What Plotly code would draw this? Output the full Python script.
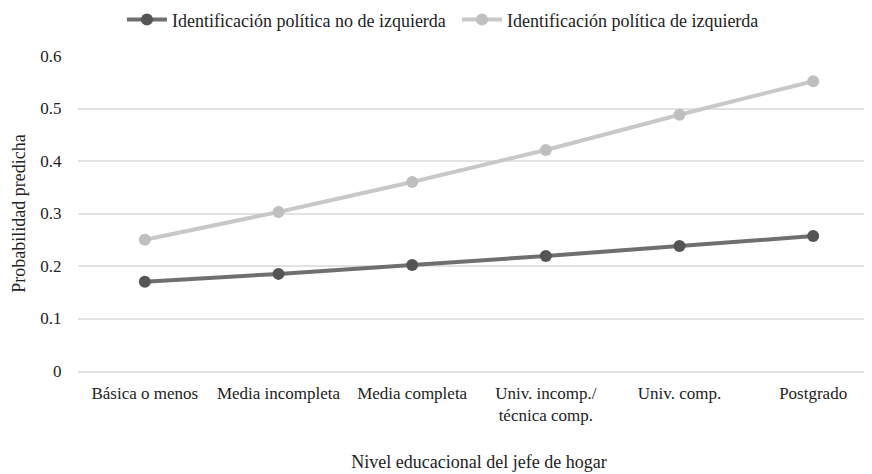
import plotly.graph_objects as go

categories = ["Básica o menos", "Media incompleta", "Media completa",
              "Univ. incomp./<br>técnica comp.", "Univ. comp.", "Postgrado"]
no_izquierda = [0.170, 0.185, 0.202, 0.219, 0.238, 0.257]
izquierda = [0.250, 0.303, 0.360, 0.421, 0.488, 0.552]
y_ticks = [0, 0.1, 0.2, 0.3, 0.4, 0.5, 0.6]
y_tick_labels = ["0", "0.1", "0.2", "0.3", "0.4", "0.5", "0.6"]

FONT = "Liberation Serif"
TXT = "#222222"

fig = go.Figure()
fig.add_trace(go.Scatter(
    x=list(range(len(categories))), y=no_izquierda, mode="lines+markers",
    name="Identificación política no de izquierda",
    line=dict(color="#6f6f6f", width=4),
    marker=dict(color="#555555", size=12),
    cliponaxis=False,
))
fig.add_trace(go.Scatter(
    x=list(range(len(categories))), y=izquierda, mode="lines+markers",
    name="Identificación política de izquierda",
    line=dict(color="#c8c8c8", width=4),
    marker=dict(color="#bfbfbf", size=12),
    cliponaxis=False,
))

fig.update_layout(
    width=872, height=474,
    margin=dict(l=70, r=0, t=48, b=111, autoexpand=False),
    paper_bgcolor="white", plot_bgcolor="white",
    font=dict(family=FONT, size=17, color=TXT),
    showlegend=True,
    legend=dict(orientation="h", x=0.1307, xanchor="left", xref="container",
                y=0.975, yanchor="middle", yref="container",
                font=dict(size=18, family=FONT, color=TXT),
                itemwidth=40, tracegroupgap=0,
                entrywidth=280, entrywidthmode="pixels"),
    xaxis=dict(
        tickmode="array", tickvals=list(range(len(categories))), ticktext=categories,
        range=[-0.5, 5.5], showgrid=False, zeroline=False,
        showline=True, linecolor="#e2e2e2", linewidth=1.5,
        ticks="outside", ticklen=6, tickcolor="rgba(0,0,0,0)",
        tickfont=dict(size=17, family=FONT, color=TXT),
        automargin=False,
        title=dict(text="Nivel educacional del jefe de hogar", standoff=31,
                   font=dict(size=18, family=FONT, color=TXT)),
    ),
    yaxis=dict(
        range=[0, 0.6], tickmode="array", tickvals=y_ticks, ticktext=y_tick_labels,
        showgrid=True, gridcolor="#e2e2e2", gridwidth=1.5,
        zeroline=False, showline=False,
        ticks="outside", ticklen=12, tickcolor="rgba(0,0,0,0)",
        tickfont=dict(size=17, family=FONT, color=TXT),
        automargin=False,
        title=dict(text="Probabilidad predicha", standoff=10,
                   font=dict(size=18, family=FONT, color=TXT)),
    ),
)

fig.write_html("out.html")
